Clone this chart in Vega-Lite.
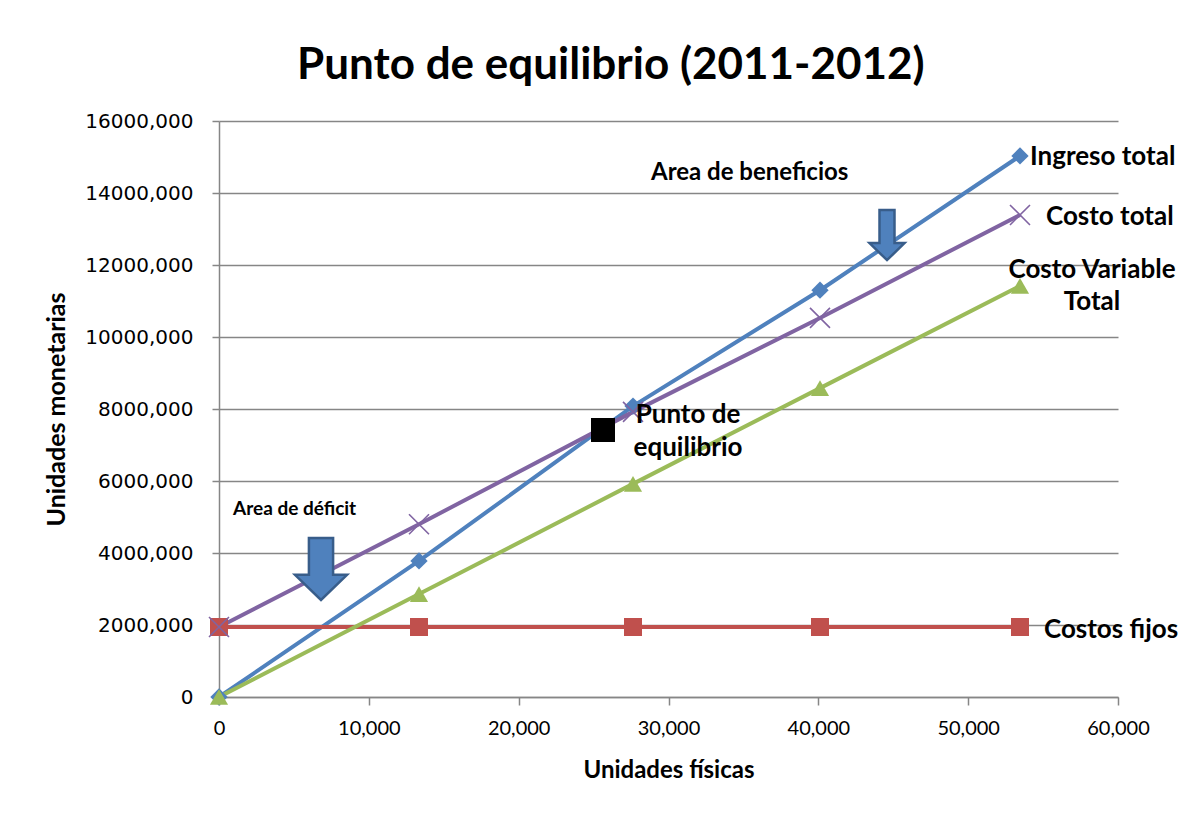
{
  "$schema": "https://vega.github.io/schema/vega-lite/v6.json",
  "autosize": {"type": "none"},
  "width": 899,
  "height": 576,
  "padding": {"left": 219, "top": 121, "right": 60, "bottom": 119},
  "background": "white",
  "config": {
    "font": "Lato",
    "view": {"stroke": null}
  },
  "title": {
    "text": "Punto de equilibrio (2011-2012)",
    "font": "Lato",
    "fontSize": 44,
    "fontWeight": "bold",
    "color": "black",
    "anchor": "start",
    "frame": "group",
    "dx": 78,
    "baseline": "alphabetic",
    "offset": -12
  },
  "datasets": {
    "series": [
      {"serie": "Ingreso total", "x": 0, "y": 0},
      {"serie": "Ingreso total", "x": 13348, "y": 3780000},
      {"serie": "Ingreso total", "x": 27631, "y": 8080000},
      {"serie": "Ingreso total", "x": 40111, "y": 11300000},
      {"serie": "Ingreso total", "x": 53459, "y": 15030000},
      {"serie": "Costos fijos", "x": 0, "y": 1944000},
      {"serie": "Costos fijos", "x": 13348, "y": 1944000},
      {"serie": "Costos fijos", "x": 27631, "y": 1944000},
      {"serie": "Costos fijos", "x": 40111, "y": 1944000},
      {"serie": "Costos fijos", "x": 53459, "y": 1944000},
      {"serie": "Costo Variable Total", "x": 0, "y": 0},
      {"serie": "Costo Variable Total", "x": 13348, "y": 2860000},
      {"serie": "Costo Variable Total", "x": 27631, "y": 5920000},
      {"serie": "Costo Variable Total", "x": 40111, "y": 8580000},
      {"serie": "Costo Variable Total", "x": 53459, "y": 11420000},
      {"serie": "Costo total", "x": 0, "y": 1944000},
      {"serie": "Costo total", "x": 13348, "y": 4800000},
      {"serie": "Costo total", "x": 27631, "y": 7920000},
      {"serie": "Costo total", "x": 40111, "y": 10530000},
      {"serie": "Costo total", "x": 53459, "y": 13390000}
    ],
    "pe": [{"x": 25628, "y": 7417000}],
    "arrows": [
      {"arrow": "deficit", "x": 6808, "y": 3556000},
      {"arrow": "beneficio", "x": 44583, "y": 12830000}
    ],
    "labelsLeft": [
      {"label": "Ingreso total", "x": 54127, "y": 15000000},
      {"label": "Costo total", "x": 55195, "y": 13330000},
      {"label": "Costos fijos", "x": 55061, "y": 1861000}
    ],
    "labelsCenter": [
      {"label": "Costo Variable", "x": 58265, "y": 11860000},
      {"label": "Total", "x": 58265, "y": 10970000},
      {"label": "Punto de", "x": 31302, "y": 7833000},
      {"label": "equilibrio", "x": 31302, "y": 6917000}
    ],
    "areaBen": [{"label": "Area de beneficios", "x": 28832, "y": 14560000}],
    "areaDef": [{"label": "Area de déficit", "x": 934, "y": 5222000}]
  },
  "layer": [
    {
      "data": {"name": "series"},
      "mark": {"type": "line", "strokeWidth": 4},
      "encoding": {
        "x": {
          "field": "x", "type": "quantitative",
          "scale": {"domain": [0, 60000], "nice": false},
          "axis": {
            "title": "Unidades físicas",
            "values": [0, 10000, 20000, 30000, 40000, 50000, 60000],
            "format": ",d",
            "grid": false,
            "domainColor": "#868686",
            "domainWidth": 1.5,
            "tickColor": "#868686",
            "tickWidth": 1.5,
            "tickSize": 8,
            "labelFont": "Lato",
            "labelFontSize": 20,
            "labelColor": "black",
            "labelPadding": 13,
            "labelFlush": false,
            "titleFont": "Lato",
            "titleFontSize": 24,
            "titleFontWeight": "bold",
            "titleColor": "black",
            "titleY": 73,
            "titleBaseline": "middle"
          }
        },
        "y": {
          "field": "y", "type": "quantitative",
          "scale": {"domain": [0, 16000000], "nice": false},
          "axis": {
            "title": "Unidades monetarias",
            "values": [0, 2000000, 4000000, 6000000, 8000000, 10000000, 12000000, 14000000, 16000000],
            "labelExpr": "datum.value == 0 ? '0' : format(datum.value / 1000, 'd') + ',000'",
            "grid": true,
            "gridColor": "#868686",
            "gridWidth": 1.5,
            "domainColor": "#868686",
            "domainWidth": 1.5,
            "tickColor": "#868686",
            "tickWidth": 1.5,
            "tickSize": 7,
            "labelFont": "DejaVu Sans",
            "labelFontSize": 20,
            "labelColor": "black",
            "labelPadding": 19,
            "labelFlush": false,
            "titleFont": "Lato",
            "titleFontSize": 25,
            "titleFontWeight": "bold",
            "titleColor": "black",
            "titleX": -163,
            "titleY": 288,
            "titleAngle": -90,
            "titleAlign": "center",
            "titleBaseline": "middle"
          }
        },
        "color": {
          "field": "serie", "type": "nominal",
          "scale": {
            "domain": ["Ingreso total", "Costos fijos", "Costo Variable Total", "Costo total"],
            "range": ["#4F81BD", "#C0504D", "#9BBB59", "#8064A2"]
          },
          "legend": null
        },
        "order": {"field": "x", "type": "quantitative"}
      }
    },
    {
      "data": {"name": "series"},
      "transform": [{"filter": "datum.serie == 'Ingreso total'"}],
      "mark": {"type": "point", "shape": "diamond", "filled": true, "opacity": 1, "size": 300, "color": "#4F81BD"},
      "encoding": {
        "x": {"field": "x", "type": "quantitative"},
        "y": {"field": "y", "type": "quantitative"}
      }
    },
    {
      "data": {"name": "series"},
      "transform": [{"filter": "datum.serie == 'Costos fijos'"}],
      "mark": {"type": "point", "shape": "square", "filled": true, "opacity": 1, "size": 324, "color": "#C0504D"},
      "encoding": {
        "x": {"field": "x", "type": "quantitative"},
        "y": {"field": "y", "type": "quantitative"}
      }
    },
    {
      "data": {"name": "series"},
      "transform": [{"filter": "datum.serie == 'Costo Variable Total'"}],
      "mark": {"type": "point", "shape": "triangle-up", "filled": true, "opacity": 1, "size": 330, "color": "#9BBB59"},
      "encoding": {
        "x": {"field": "x", "type": "quantitative"},
        "y": {"field": "y", "type": "quantitative"}
      }
    },
    {
      "data": {"name": "series"},
      "transform": [{"filter": "datum.serie == 'Costo total'"}],
      "mark": {"type": "point", "shape": "M-1,-1L1,1M1,-1L-1,1", "filled": false, "opacity": 1, "size": 400, "strokeWidth": 1.6, "color": "#8064A2"},
      "encoding": {
        "x": {"field": "x", "type": "quantitative"},
        "y": {"field": "y", "type": "quantitative"}
      }
    },
    {
      "data": {"name": "pe"},
      "mark": {"type": "point", "shape": "square", "filled": true, "opacity": 1, "size": 576, "color": "black"},
      "encoding": {
        "x": {"field": "x", "type": "quantitative"},
        "y": {"field": "y", "type": "quantitative"}
      }
    },
    {
      "data": {"name": "arrows"},
      "transform": [{"filter": "datum.arrow == 'deficit'"}],
      "mark": {"type": "point", "shape": "M-0.39,-1L0.39,-1L0.39,0.19L0.84,0.19L0,1L-0.84,0.19L-0.39,0.19Z", "filled": true, "opacity": 1, "size": 3844, "fill": "#4F81BD", "stroke": "#385D8A", "strokeWidth": 2.5},
      "encoding": {
        "x": {"field": "x", "type": "quantitative"},
        "y": {"field": "y", "type": "quantitative"}
      }
    },
    {
      "data": {"name": "arrows"},
      "transform": [{"filter": "datum.arrow == 'beneficio'"}],
      "mark": {"type": "point", "shape": "M-0.3,-1L0.3,-1L0.3,0.32L0.7,0.32L0,1L-0.7,0.32L-0.3,0.32Z", "filled": true, "opacity": 1, "size": 2500, "fill": "#4F81BD", "stroke": "#385D8A", "strokeWidth": 2.5},
      "encoding": {
        "x": {"field": "x", "type": "quantitative"},
        "y": {"field": "y", "type": "quantitative"}
      }
    },
    {
      "data": {"name": "labelsLeft"},
      "mark": {"type": "text", "align": "left", "baseline": "middle", "font": "Lato", "fontWeight": "bold", "fontSize": 26, "color": "black"},
      "encoding": {
        "x": {"field": "x", "type": "quantitative"},
        "y": {"field": "y", "type": "quantitative"},
        "text": {"field": "label"}
      }
    },
    {
      "data": {"name": "labelsCenter"},
      "mark": {"type": "text", "align": "center", "baseline": "middle", "font": "Lato", "fontWeight": "bold", "fontSize": 26, "color": "black"},
      "encoding": {
        "x": {"field": "x", "type": "quantitative"},
        "y": {"field": "y", "type": "quantitative"},
        "text": {"field": "label"}
      }
    },
    {
      "data": {"name": "areaBen"},
      "mark": {"type": "text", "align": "left", "baseline": "middle", "font": "Lato", "fontWeight": "bold", "fontSize": 24, "color": "black"},
      "encoding": {
        "x": {"field": "x", "type": "quantitative"},
        "y": {"field": "y", "type": "quantitative"},
        "text": {"field": "label"}
      }
    },
    {
      "data": {"name": "areaDef"},
      "mark": {"type": "text", "align": "left", "baseline": "middle", "font": "Lato", "fontWeight": "bold", "fontSize": 19, "color": "black"},
      "encoding": {
        "x": {"field": "x", "type": "quantitative"},
        "y": {"field": "y", "type": "quantitative"},
        "text": {"field": "label"}
      }
    }
  ]
}
